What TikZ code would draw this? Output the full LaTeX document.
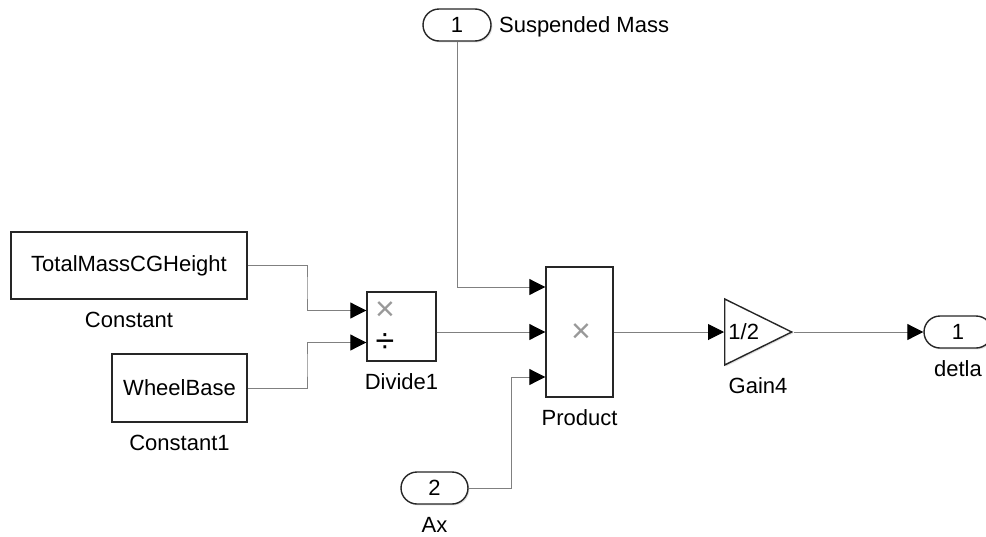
\documentclass[tikz,border=0pt]{standalone}
\usepackage{fontspec}
\setmainfont{Liberation Sans}
\usetikzlibrary{shapes.geometric,arrows.meta,positioning,calc,shadows}

\begin{document}
\begin{tikzpicture}[
    x=0.5pt, y=-0.5pt,
    font=\fontsize{11}{13}\selectfont,
    block/.style={rectangle, draw=black!85, line width=0.7pt, fill=white, inner sep=0pt, drop shadow={shadow xshift=0.7pt, shadow yshift=-0.7pt, opacity=0.25}},
    port/.style={rectangle, rounded corners=8pt, draw=black!85, line width=0.7pt, fill=white, minimum width=34pt, minimum height=16pt, inner sep=0pt, drop shadow={shadow xshift=0.7pt, shadow yshift=-0.7pt, opacity=0.25}},
    gainbox/.style={isosceles triangle, isosceles triangle stretches, draw=black!85, line width=0.7pt, fill=white, inner sep=0pt, minimum width=33pt, minimum height=33.5pt, drop shadow={shadow xshift=0.7pt, shadow yshift=-0.7pt, opacity=0.25}},
    caption/.style={inner sep=0pt, text height=7.8pt, text depth=0pt},
    symb/.style={inner sep=0pt, font=\fontsize{17}{17}\selectfont},
    wire/.style={draw=black!50, line width=0.5pt, -{Triangle[color=black, length=8pt, width=8pt]}},
]
\useasboundingbox (0,0) rectangle (986,536);

% Constants
\node[block, minimum width=118pt, minimum height=33.5pt] (const) at (129,265.5) {TotalMassCGHeight};
\node[caption, below=6pt of const] (constlbl) {Constant};
\node[block, minimum width=67.5pt, minimum height=34pt] (wheel) at (179.5,388) {WheelBase};
\node[caption, below=6pt of wheel] (wheellbl) {Constant1};

% Divide
\node[block, minimum width=34.5pt, minimum height=34.5pt] (div) at (401.5,326.5) {};
\node[caption, below=6pt of div] (divlbl) {Divide1};
\coordinate (divin1) at ($(div.west)+(0,-16)$);
\coordinate (divin2) at ($(div.west)+(0,16)$);
\node[symb, text=black!40] (divmul) at (385,311) {×};
\node[symb] (divdiv) at (385,343) {÷};

% Inports
\node[port] (in1) at (457,25) {1};
\node[caption, right=3.5pt of in1] (in1lbl) {Suspended Mass};
\node[port, minimum width=33.5pt] (in2) at (434.5,488) {2};
\node[caption, below=6pt of in2] (in2lbl) {Ax};

% Product
\node[block, minimum width=33.5pt, minimum height=65pt] (prod) at (579.5,332) {};
\node[caption, below=6pt of prod] (prodlbl) {Product};
\node[symb, text=black!40] (prodmul) at (581,333) {×};
\coordinate (prodin1) at ($(prod.west)+(0,-45)$);
\coordinate (prodin2) at (prod.west);
\coordinate (prodin3) at ($(prod.west)+(0,45)$);

% Gain
\node[gainbox, anchor=lower side] (gain) at (724,332) {};
\node[anchor=west, inner sep=0pt] (gainval) at ([xshift=2pt]gain.lower side) {1/2};
\node[caption] (gainlbl) at (758,386) {Gain4};

% Outport
\node[port] (out1) at (958,332) {1};
\node[caption, below=6pt of out1] (out1lbl) {detla};

% Wires
\draw[wire] (const.east) -| ($(const.east)!0.5!(divin1)$) |- (divin1);
\draw[wire] (wheel.east) -| ($(wheel.east)!0.5!(divin2)$) |- (divin2);
\draw[wire] (in1.south) |- (prodin1);
\draw[wire] (div.east |- prodin2) -- (prodin2);
\draw[wire] (in2.east) -- ++(43,0) |- (prodin3);
\draw[wire] (prod.east) -- (gain.lower side);
\draw[wire] (gain.apex) -- (out1.west);

\end{tikzpicture}
\end{document}
